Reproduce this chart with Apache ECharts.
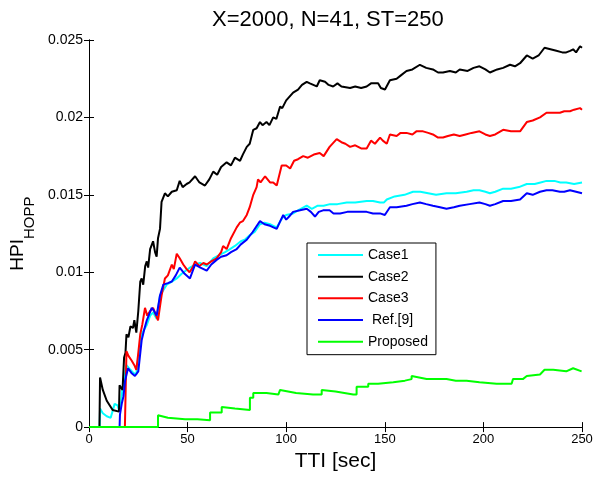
<!DOCTYPE html>
<html>
<head>
<meta charset="utf-8">
<script src="https://cdn.jsdelivr.net/npm/echarts@6/dist/echarts.min.js"></script>
<style>
  html, body { margin: 0; padding: 0; background: #fff; }
  #chart { width: 596px; height: 477px; }
</style>
</head>
<body>
<div id="chart"></div>
<script>
// [TTI, HPI] pairs
var case1 = [[0,0],[5.4,0],[5.6,0.0012],[7,0.0009],[9,0.0007],[11,0.0006],[12,0.0005],[13,0.0015],[14.5,0.0014],[15.2,0.0011],[16,0.0013],[17,0.0025],[18,0.0033],[19,0.004],[21,0.0037],[22.5,0.0035],[24,0.0034],[25,0.0045],[26.7,0.006],[28,0.0063],[29.3,0.0066],[31,0.0072],[32.5,0.0074],[34.3,0.007],[36,0.0085],[37.5,0.0088],[39.4,0.0092],[42,0.0094],[44.5,0.0096],[47,0.0099],[49,0.0101],[51.2,0.0103],[53.8,0.0105],[56.3,0.0106],[59.7,0.0104],[63,0.0109],[66,0.0111],[69,0.0113],[71.5,0.0115],[74,0.0117],[77,0.012],[79,0.0121],[81.6,0.0124],[84,0.0126],[86.7,0.0131],[89,0.0132],[91.8,0.0131],[93.5,0.013],[95.2,0.0129],[98,0.0135],[100,0.0137],[103.5,0.0138],[106,0.014],[110.4,0.0143],[113,0.0141],[116,0.0143],[119,0.0143],[122.2,0.0144],[126,0.0144],[130.7,0.0145],[135,0.0145],[140.8,0.0146],[144,0.0146],[147.6,0.0145],[149.5,0.0145],[151,0.0147],[155,0.0149],[160,0.015],[164.3,0.0152],[168,0.0152],[172,0.0151],[176,0.015],[181.3,0.0151],[186,0.0151],[191.5,0.0152],[195,0.0153],[198,0.0153],[201,0.0152],[203.3,0.0151],[206,0.0152],[210,0.0154],[214,0.0154],[218,0.0155],[222,0.0157],[226,0.0157],[229,0.0158],[232,0.0159],[236,0.0159],[239,0.0158],[242,0.0158],[246,0.0157],[250,0.0158]];

var case2 = [[0,0],[5.3,0],[5.6,0.0032],[7,0.0024],[9,0.0017],[12,0.0011],[15.2,0.001],[15.5,0.0027],[16.5,0.0026],[17,0.0024],[17.8,0.0045],[18.5,0.0048],[19,0.006],[20,0.0058],[21,0.0065],[22.3,0.0064],[23,0.0069],[24,0.0061],[25,0.0075],[26,0.0094],[26.7,0.0096],[27.5,0.0092],[28.5,0.0104],[29.3,0.0107],[30,0.0103],[31,0.0115],[32.5,0.012],[33.5,0.0113],[34.3,0.011],[35,0.0122],[36,0.0128],[36.8,0.01455],[38.5,0.0151],[40,0.0149],[42,0.0152],[44.5,0.0153],[46,0.0159],[47.5,0.0155],[49.5,0.0157],[51,0.0158],[53.8,0.0162],[56,0.0158],[58.8,0.0156],[61,0.016],[63,0.0165],[65,0.0163],[67,0.0168],[69.8,0.0171],[72,0.0169],[74,0.0174],[76.6,0.0172],[78,0.0176],[80,0.0181],[81.5,0.0183],[83.3,0.0192],[85,0.0193],[86.7,0.0197],[88,0.0195],[90,0.0197],[91.5,0.0195],[93.4,0.02],[95,0.0199],[96.9,0.0207],[98,0.0206],[100,0.0211],[103.5,0.0216],[106,0.0218],[108,0.0221],[110.4,0.0223],[112,0.0222],[115.5,0.022],[117,0.0224],[119.7,0.0223],[121.5,0.0221],[123.8,0.022],[126,0.0222],[128,0.022],[132.4,0.0219],[135,0.022],[138,0.0219],[140.8,0.022],[143,0.0222],[146.6,0.0222],[148,0.0219],[150.1,0.0218],[152.6,0.0224],[156,0.0225],[158,0.0227],[161,0.023],[164,0.0231],[167.8,0.0234],[171,0.0232],[174.4,0.0231],[177,0.0229],[179.5,0.0229],[183,0.023],[186,0.0229],[188,0.0231],[192,0.023],[195,0.0232],[198,0.0233],[201,0.0231],[203.3,0.0229],[207,0.0231],[210,0.0232],[213.5,0.0234],[216,0.0233],[218.6,0.0235],[222,0.024],[225,0.0238],[228,0.024],[231,0.0245],[234,0.0244],[237,0.0243],[240,0.0242],[242,0.0242],[244,0.0243],[245.5,0.0244],[247,0.0242],[249,0.0246],[250,0.0245]];

var case3 = [[0,0],[18.2,0],[19,0.0049],[20,0.0046],[21.6,0.0043],[23,0.004],[24,0.0037],[25,0.0048],[26,0.006],[27,0.0066],[28.4,0.0077],[29.5,0.0072],[31,0.0075],[32.5,0.0077],[34,0.0072],[35,0.0069],[36,0.0078],[36.8,0.0085],[38.5,0.0096],[40,0.0098],[42,0.0105],[43,0.0102],[44.5,0.0112],[46,0.0109],[47.8,0.0105],[49.5,0.0102],[51,0.01],[52.5,0.0103],[53.8,0.0107],[56,0.0104],[58,0.0106],[59.7,0.0105],[62,0.0107],[64.7,0.0109],[67,0.0113],[68,0.0117],[69.8,0.0115],[72,0.0122],[74.9,0.0129],[76.5,0.0132],[78,0.0133],[80,0.0137],[81.5,0.0142],[83.3,0.015],[85,0.0155],[85.7,0.016],[87,0.0158],[89.3,0.0162],[91.8,0.0158],[93.4,0.0158],[95.2,0.0156],[97.7,0.0169],[100,0.0169],[102,0.0167],[104,0.0172],[106,0.0173],[108.6,0.0175],[111,0.0174],[114,0.0176],[117,0.0177],[119,0.0175],[122,0.0181],[125.6,0.0186],[128,0.0184],[130,0.0183],[132.4,0.0181],[135,0.0182],[138,0.018],[140.8,0.018],[143,0.0185],[145,0.0183],[147.6,0.0187],[149,0.0185],[151,0.0183],[152.6,0.0189],[156,0.0188],[158,0.019],[161,0.019],[164,0.0189],[166,0.0191],[169.4,0.0191],[172,0.019],[174.4,0.0189],[177,0.0187],[179.5,0.0187],[182,0.0188],[185,0.0189],[188,0.0188],[191,0.0189],[194,0.019],[198,0.0191],[201,0.0189],[203.3,0.0188],[206,0.0189],[210,0.0192],[214,0.0191],[218.6,0.0191],[222,0.0197],[225,0.0198],[228.7,0.02],[232,0.0203],[235,0.0203],[238.8,0.0203],[241,0.0204],[243.9,0.0204],[246,0.0205],[249,0.0206],[250,0.0205]];

var ref9 = [[0,0],[15.5,0],[15.7,0.0008],[16.6,0.0015],[17.5,0.002],[18.3,0.003],[19.8,0.0038],[21.5,0.0035],[23.3,0.0033],[25,0.0036],[26.7,0.0056],[28,0.0063],[29.3,0.0069],[31.8,0.0077],[33,0.0075],[34.3,0.0072],[36,0.0085],[37.7,0.0092],[40,0.0093],[42,0.0094],[44,0.0098],[46,0.0103],[48.5,0.0099],[51.2,0.0096],[53.8,0.0105],[56.5,0.0103],[59.7,0.0101],[62,0.0105],[64.7,0.0108],[67,0.011],[69.8,0.0111],[72,0.0113],[74.9,0.0115],[77,0.0118],[80,0.0121],[83,0.0126],[86.7,0.0133],[89,0.0131],[91.8,0.013],[95.2,0.0128],[97,0.0133],[98.5,0.0137],[100,0.0134],[101.5,0.0136],[103.5,0.0139],[107,0.014],[110.4,0.0141],[112.5,0.0139],[114.6,0.0136],[116.5,0.0139],[118.7,0.014],[122,0.014],[124,0.0138],[127.3,0.0138],[131,0.0139],[135,0.0139],[140.8,0.0139],[144,0.0138],[147.6,0.0138],[150,0.0137],[152.6,0.0142],[156,0.0142],[161,0.0143],[164,0.0144],[167.8,0.0145],[171,0.0144],[174.4,0.0143],[178,0.0142],[181.3,0.0141],[185,0.0142],[188,0.0143],[193,0.0144],[198,0.0145],[201,0.0144],[203.3,0.0143],[206,0.0144],[210,0.0146],[214,0.0146],[218.6,0.0147],[222,0.0151],[225,0.015],[228.7,0.0152],[232,0.0153],[235,0.0153],[238.8,0.0152],[241,0.0152],[243.9,0.0153],[247,0.0152],[250,0.0151]];

var proposed = [[0,0],[35,0],[35,0.00077],[40,0.0006],[48.7,0.0005],[55,0.0005],[61.4,0.00045],[61.4,0.00095],[67.3,0.00095],[67.3,0.0013],[74,0.0012],[81.6,0.0011],[81.6,0.0019],[83.3,0.0019],[83.3,0.0022],[90,0.0022],[96,0.0021],[96.9,0.0021],[96.9,0.0024],[105,0.0022],[113.6,0.0021],[118,0.0021],[118,0.0024],[125,0.0023],[134,0.0021],[135.7,0.0021],[135.7,0.0026],[141.6,0.0026],[141.6,0.0028],[146.6,0.0028],[146.6,0.0029],[154.3,0.0029],[154.3,0.003],[160.2,0.003],[160.2,0.0031],[163.6,0.0031],[163.6,0.0033],[171.2,0.0031],[174,0.0031],[181.3,0.0031],[186,0.003],[191.5,0.003],[198,0.0029],[206.7,0.0028],[214.3,0.0028],[215,0.0031],[220,0.0031],[222,0.0033],[228.7,0.0034],[231,0.0037],[235.4,0.0037],[242,0.0036],[245.5,0.0038],[249.8,0.0036],[250,0.0036]];

var seriesNames = ['Case1', 'Case2', 'Case3', ' Ref.[9]', 'Proposed'];
var seriesColors = ['#00ffff', '#000000', '#ff0000', '#0000ff', '#00ff00'];
var seriesData = [case1, case2, case3, ref9, proposed];

var font = 'Liberation Sans, Arial, sans-serif';

var myChart = echarts.init(document.getElementById('chart'), null, { renderer: 'canvas' });

var series = [];
for (var i = 0; i < seriesData.length; i++) {
    series.push({
        name: seriesNames[i],
        type: 'line',
        data: seriesData[i],
        symbol: 'none',
        animation: false,
        color: seriesColors[i],
        lineStyle: { width: 2, color: seriesColors[i] }
    });
}

var tickStyle = { show: true, inside: true, length: 5, lineStyle: { color: '#000' } };

myChart.setOption({
    backgroundColor: '#fff',
    animation: false,
    title: {
        text: 'X=2000, N=41, ST=250',
        left: 212,
        top: 9,
        padding: 0,
        textStyle: { fontFamily: font, fontSize: 22, fontWeight: 'normal', color: '#000' }
    },
    legend: {
        orient: 'vertical',
        left: 307,
        top: 243,
        padding: [5, 8, 6, 10],
        itemWidth: 45,
        itemHeight: 14,
        itemGap: 7.67,
        borderColor: '#000',
        borderWidth: 1,
        backgroundColor: '#fff',
        itemStyle: { opacity: 0 },
        textStyle: { fontFamily: font, fontSize: 14, color: '#000' },
        data: seriesNames
    },
    grid: { left: 89, right: 14, top: 40, bottom: 47 },
    xAxis: [
        {
            type: 'value',
            min: 0,
            max: 250,
            interval: 50,
            name: 'TTI [sec]',
            nameLocation: 'middle',
            nameGap: 23,
            nameTextStyle: { fontFamily: font, fontSize: 21, color: '#000' },
            axisLine: { lineStyle: { color: '#000', width: 1 } },
            axisTick: tickStyle,
            axisLabel: { fontFamily: font, fontSize: 13, color: '#000', margin: 6 },
            splitLine: { show: false }
        },
        {
            type: 'value',
            position: 'top',
            min: 0,
            max: 250,
            interval: 50,
            axisLine: { lineStyle: { color: '#000', width: 1 } },
            axisTick: tickStyle,
            axisLabel: { show: false },
            splitLine: { show: false }
        }
    ],
    yAxis: [
        {
            type: 'value',
            min: 0,
            max: 0.025,
            interval: 0.005,
            name: '{a|HPI}{b|HOPP}',
            nameLocation: 'middle',
            nameGap: 36,
            nameTextStyle: {
                fontFamily: font,
                color: '#000',
                rich: {
                    a: { fontFamily: font, fontSize: 19, lineHeight: 19, verticalAlign: 'top', color: '#000' },
                    b: { fontFamily: font, fontSize: 15, lineHeight: 43, verticalAlign: 'middle', color: '#000' }
                }
            },
            axisLine: { lineStyle: { color: '#000', width: 1 } },
            axisTick: tickStyle,
            axisLabel: {
                fontFamily: font, fontSize: 14, color: '#000', margin: 6,
                formatter: function (v) { return String(parseFloat(v.toFixed(3))); }
            },
            splitLine: { show: false }
        },
        {
            type: 'value',
            position: 'right',
            min: 0,
            max: 0.025,
            interval: 0.005,
            axisLine: { show: true, lineStyle: { color: '#000', width: 1 } },
            axisTick: tickStyle,
            axisLabel: { show: false },
            splitLine: { show: false }
        }
    ],
    series: series
});
</script>
</body>
</html>
